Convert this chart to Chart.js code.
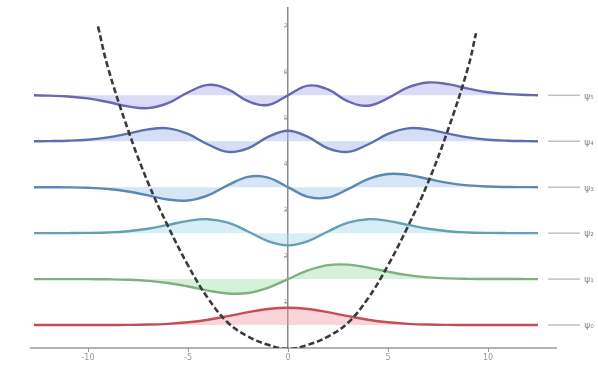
<!DOCTYPE html>
<html>
<head>
<meta charset="utf-8">
<script src="https://cdn.jsdelivr.net/npm/chart.js@4.4.1/dist/chart.umd.min.js"></script>
<style>
  html,body{margin:0;padding:0;background:#fff;}
  #wrap{width:598px;height:365px;position:relative;}
</style>
</head>
<body>
<div id="wrap"><canvas id="c" width="598" height="365"></canvas></div>
<script>
// ---- data ----
const xs = [-12.7,-12,-11,-10,-9,-8,-7,-6,-5,-4,-3,-2,-1,0,1,2,3,4,5,6,7,8,9,10,11,12,12.5];
const energies = [0.5, 1.5, 2.5, 3.5, 4.5, 5.5];
const levelLabels = ['ψ₀','ψ₁','ψ₂','ψ₃','ψ₄','ψ₅'];
const psi0 = [0,0,0,0.0002,0.0009,0.0033,0.0100,0.0262,0.0591,0.1150,0.1930,0.2794,0.3488,0.3756,0.3488,0.2794,0.1930,0.1150,0.0591,0.0262,0.0100,0.0033,0.0009,0.0002,0,0,0];
const psi1 = [0,0,-0.0004,-0.0013,-0.0046,-0.0144,-0.0381,-0.0856,-0.1608,-0.2502,-0.3150,-0.3039,-0.1897,0,0.1897,0.3039,0.3150,0.2502,0.1608,0.0856,0.0381,0.0144,0.0046,0.0013,0.0004,0,0];
const psi2 = [0,0.0003,0.0012,0.0046,0.0152,0.0419,0.0956,0.1789,0.2673,0.3037,0.2269,0.0363,-0.1737,-0.2656,-0.1737,0.0363,0.2269,0.3037,0.2673,0.1789,0.0956,0.0419,0.0152,0.0046,0.0012,0.0003,0];
const psi3 = [0,-0.0010,-0.0039,-0.0135,-0.0393,-0.0935,-0.1790,-0.2672,-0.2885,-0.1771,0.0434,0.2253,0.2094,0,-0.2094,-0.2253,-0.0434,0.1771,0.2885,0.2672,0.1790,0.0935,0.0393,0.0135,0.0039,0.0010,0];
const psi4 = [0,0.0030,0.0107,0.0328,0.0831,0.1673,0.2580,0.2812,0.1609,-0.0703,-0.2320,-0.1540,0.0935,0.2300,0.0935,-0.1540,-0.2320,-0.0703,0.1609,0.2812,0.2580,0.1673,0.0831,0.0328,0.0107,0.0030,0];
const psi5 = [0,-0.0080,-0.0250,-0.0676,-0.1467,-0.2418,-0.2791,-0.1713,0.0625,0.2268,0.1304,-0.1267,-0.2100,0,0.2100,0.1267,-0.1304,-0.2268,-0.0625,0.1713,0.2791,0.2418,0.1467,0.0676,0.0250,0.0080,0];
const potX = [-9.5,-9,-8,-7,-6,-5,-4,-3,-2,-1,0,1,2,3,4,5,6,7,8,9,9.4];
const potY = [7.0,6.1,4.75,3.6,2.65,1.8,1.08,0.55,0.25,0.07,-0.02,0.07,0.25,0.55,1.08,1.8,2.65,3.6,4.75,6.1,6.85];
const xTickValues = [-10,-5,0,5,10];
const yTickValues = [1,2,3,4,5,6,7];

// ---- styles ----
const lineColors = ['rgb(196,78,88)','rgb(128,176,128)','rgb(100,160,180)','rgb(92,136,182)','rgb(92,112,174)','rgb(104,104,176)'];
const fillColors = ['rgba(240,150,165,0.40)','rgba(150,220,160,0.40)','rgba(165,220,232,0.45)','rgba(165,200,238,0.45)','rgba(165,180,238,0.45)','rgba(175,175,238,0.45)'];
const psis = [psi0, psi1, psi2, psi3, psi4, psi5];

const datasets = [];
datasets.push({
  data: potX.map((x,i)=>({x, y: potY[i]})),
  borderColor: '#3a3a3a', borderWidth: 2.6, borderDash: [6,3],
  pointRadius: 0, tension: 0.4, fill: false
});
psis.forEach((p, n) => {
  datasets.push({
    data: xs.map((x,i)=>({x, y: energies[n] + p[i]})),
    borderColor: lineColors[n], borderWidth: 2.4,
    backgroundColor: fillColors[n],
    fill: {value: energies[n]},
    pointRadius: 0, tension: 0.4
  });
  datasets.push({
    data: [{x:13.0, y:energies[n]},{x:14.6, y:energies[n]}],
    borderColor: 'rgba(150,150,150,0.6)', borderWidth: 1.5,
    pointRadius: 0, fill: false
  });
});
// x axis line
datasets.push({
  data: [{x:-12.9, y:0},{x:13.45, y:0}],
  borderColor: '#9a9a9a', borderWidth: 1.5, pointRadius: 0, fill: false, clip: false
});

const labelPlugin = {
  id: 'levelLabels',
  afterDraw(chart) {
    const ctx = chart.ctx, xS = chart.scales.x, yS = chart.scales.y;
    ctx.save();
    ctx.font = '9px "DejaVu Sans"';
    ctx.fillStyle = '#888';
    ctx.textAlign = 'center';
    ctx.textBaseline = 'middle';
    energies.forEach((e, n) => {
      ctx.fillText(levelLabels[n], xS.getPixelForValue(15.05), yS.getPixelForValue(e) + 1);
    });
    ctx.restore();
  }
};

new Chart(document.getElementById('c'), {
  type: 'line',
  data: { datasets },
  options: {
    responsive: false, animation: false, devicePixelRatio: 1,
    layout: { padding: { top: 8, left: 8, right: 10, bottom: 0 } },
    plugins: { legend: { display: false }, tooltip: { enabled: false } },
    scales: {
      x: {
        type: 'linear', min: -14, max: 15,
        afterBuildTicks: s => { s.ticks = xTickValues.map(v => ({value: v})); },
        afterFit: s => { s.height = 17; },
        border: { display: false },
        grid: { drawOnChartArea: false, drawTicks: true, tickLength: 4, color: '#999' },
        ticks: { font: { size: 8, family: 'DejaVu Sans' }, color: '#999', padding: 1, maxRotation: 0 }
      },
      y: {
        type: 'linear', min: 0, max: 7.4, position: { x: 0 },
        afterBuildTicks: s => { s.ticks = yTickValues.map(v => ({value: v})); },
        border: { display: true, color: '#8a8a8a', width: 1.5 },
        grid: { drawOnChartArea: false, drawTicks: true, tickLength: 3, color: '#aaa' },
        ticks: { font: { size: 7, family: 'DejaVu Sans' }, color: '#aaa', padding: 2 }
      }
    }
  },
  plugins: [labelPlugin]
});
</script>
</body>
</html>
